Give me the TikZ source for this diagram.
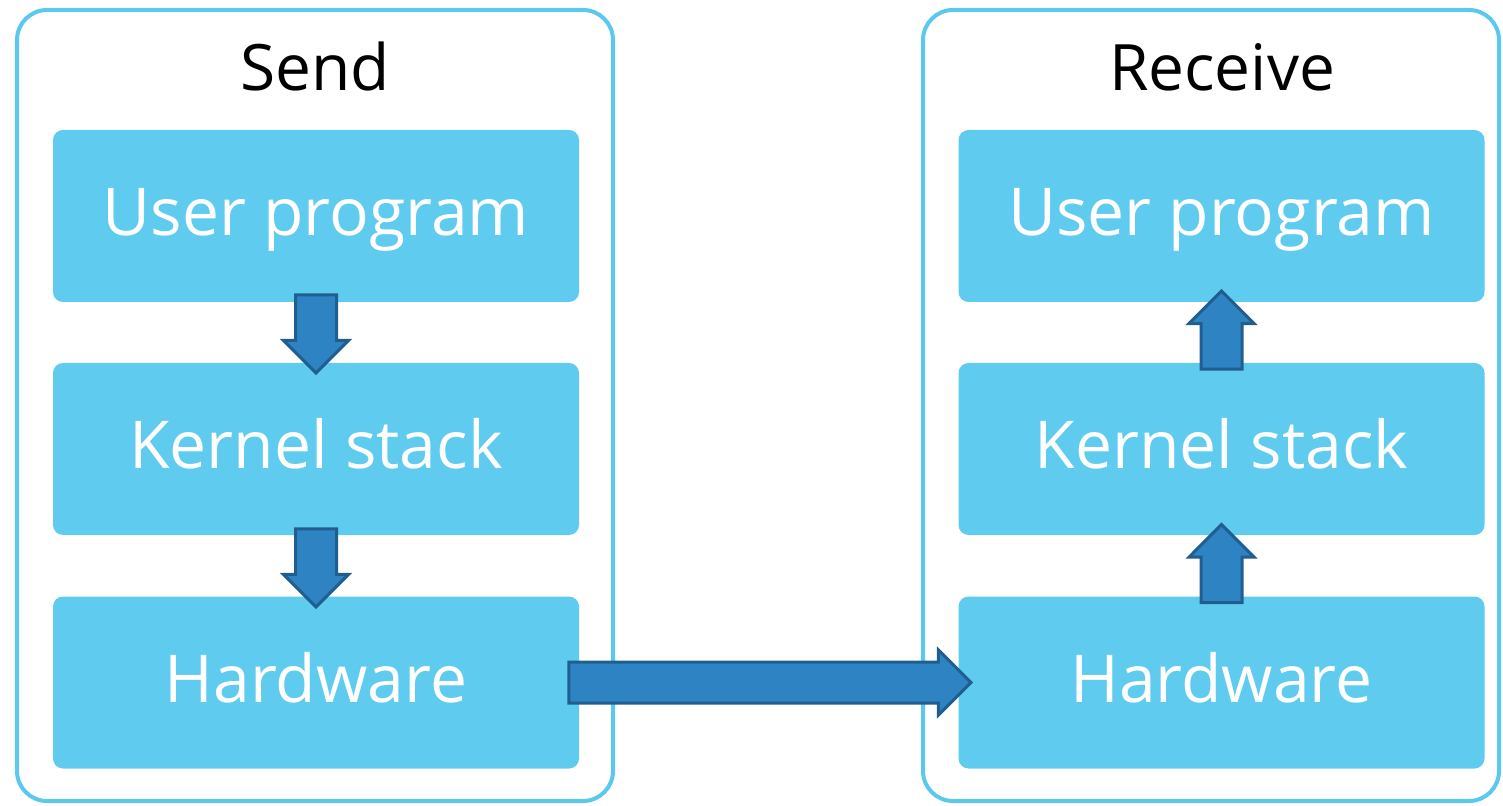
\documentclass[tikz,border=0pt]{standalone}
\usepackage{fontspec}
\setmainfont{Open Sans}
\usetikzlibrary{shapes.arrows}
\definecolor{panelline}{HTML}{5BC8EE}
\definecolor{layerfill}{HTML}{5FCBEE}
\definecolor{flowfill}{HTML}{2E83C3}
\definecolor{flowline}{HTML}{215E90}
\tikzset{
  panel/.style={draw=panelline, line width=2pt, rounded corners=15pt, minimum width=#1, minimum height=395.5pt},
  title/.style={font=\fontsize{32}{38}\selectfont, text height=23pt, text depth=0pt},
  layer/.style={fill=layerfill, rounded corners=5pt, text=white, minimum width=263pt, minimum height=86pt,
    font=\fontsize{33}{40}\selectfont, text height=24pt, text depth=4pt},
  flow/.style={single arrow, fill=flowfill, draw=flowline, line width=1.5pt, inner sep=9.5pt,
    single arrow head extend=6pt, minimum height=#1, anchor=tail},
}
\begin{document}
\begin{tikzpicture}[x=0.5pt,y=-0.5pt]
\useasboundingbox (0,0) rectangle (1503,806);
\node[panel=298pt] (sendbox) at (315,405.5) {};
\node[panel=288pt] (recvbox) at (1211,405.5) {};
\node[title] (sendtitle) at (315,67.5) {Send};
\node[title] (recvtitle) at (1222,67.5) {Receive};
\node[layer] (suser) at (316,216) {User program};
\node[layer] (skernel) at (316,449) {Kernel stack};
\node[layer] (shw) at (316,682.5) {Hardware};
\node[layer] (ruser) at (1221.5,216) {User program};
\node[layer] (rkernel) at (1221.5,449) {Kernel stack};
\node[layer] (rhw) at (1221.5,682.5) {Hardware};
\node[flow=39pt, shape border rotate=270] (sdown1) at ([yshift=4.5pt]suser.south) {};
\node[flow=39pt, shape border rotate=270] (sdown2) at ([yshift=4pt]skernel.south) {};
\node[flow=39pt, shape border rotate=90] (rup1) at ([yshift=-4pt]rkernel.north) {};
\node[flow=39pt, shape border rotate=90] (rup2) at ([yshift=-4pt]rhw.north) {};
\node[flow=201pt] (wire) at ([xshift=-6pt]shw.east) {};
\end{tikzpicture}
\end{document}
